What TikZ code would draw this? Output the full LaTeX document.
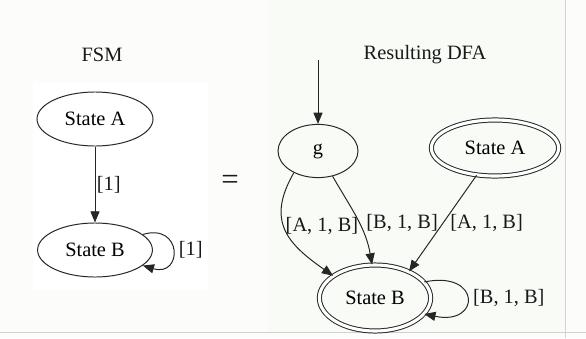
\documentclass[tikz,border=0pt]{standalone}
\usepackage{fontspec}
\setmainfont{Liberation Serif}
\usetikzlibrary{arrows.meta,shapes.geometric}

\definecolor{pagegray}{RGB}{252,252,251}
\definecolor{panelgreen}{RGB}{249,252,246}

\begin{document}
\begin{tikzpicture}[x=0.025cm, y=0.025cm,
  font=\fontsize{14.5}{17}\selectfont,
  state/.style={ellipse, draw=black!85, line width=0.7pt, inner sep=0pt},
  accept/.style={state, double, double distance=2.2pt},
  trans/.style={-{Triangle[length=8pt,width=6.5pt]}, draw=black!85, line width=0.7pt},
  lbl/.style={inner sep=1pt, text=black!90}]

  % --- Frame ---
  \useasboundingbox (0,0) rectangle (586,338);
  \fill[pagegray] (0,0) rectangle (586,338);
  \fill[white] (33,48) rectangle (208,255);
  \fill[panelgreen] (268,6) rectangle (565,338);
  \draw[gray!35] (0,6) -- (586,6);
  \draw[gray!35] (565,0) -- (565,338);

  % --- Titles ---
  \node[lbl] (fsmTitle) at (102,283) {FSM};
  \node[lbl] (dfaTitle) at (425,283) {Resulting DFA};
  \node[lbl, font=\fontsize{22}{24}\selectfont] (eq) at (230,156) {=};

  % --- FSM states ---
  \node[state, minimum width=2.9cm, minimum height=1.35cm] (fsmA) at (95,219) {State A};
  \node[state, minimum width=2.87cm, minimum height=1.35cm] (fsmB) at (95,88) {State B};

  % --- FSM transitions ---
  \draw[trans] (fsmA) -- node[lbl, right] {[1]} (fsmB);
  \draw[trans] (fsmB.18) .. controls +(40,12) and +(40,-12) .. node[lbl, right=3pt] {[1]} (fsmB.-18);

  % --- DFA states ---
  \node[state, minimum width=2cm, minimum height=1.33cm] (g) at (318,187) {g};
  \node[accept, minimum width=3.18cm, minimum height=1.4cm] (dfaA) at (495,190) {State A};
  \node[accept, minimum width=2.78cm, minimum height=1.65cm] (dfaB) at (375,40) {State B};
  \coordinate (start) at (318,278);

  % --- DFA transitions ---
  \draw[trans] (start) -- (g);
  \draw[trans] (g.222) to[out=240, in=145, looseness=1.3] node[lbl, pos=0.45, anchor=west] {[A, 1, B]} (dfaB.152);
  \draw[trans] (g.300) to[out=-60, in=100] node[lbl, pos=0.55, right=4pt] {[B, 1, B]} (dfaB.95);
  \draw[trans] (dfaA.236) -- node[lbl, pos=0.5, right=4pt] {[A, 1, B]} (dfaB.38);
  \draw[trans] (dfaB.18) .. controls +(57,12) and +(57,-12) .. node[lbl, right=3pt] {[B, 1, B]} (dfaB.-18);

\end{tikzpicture}
\end{document}
